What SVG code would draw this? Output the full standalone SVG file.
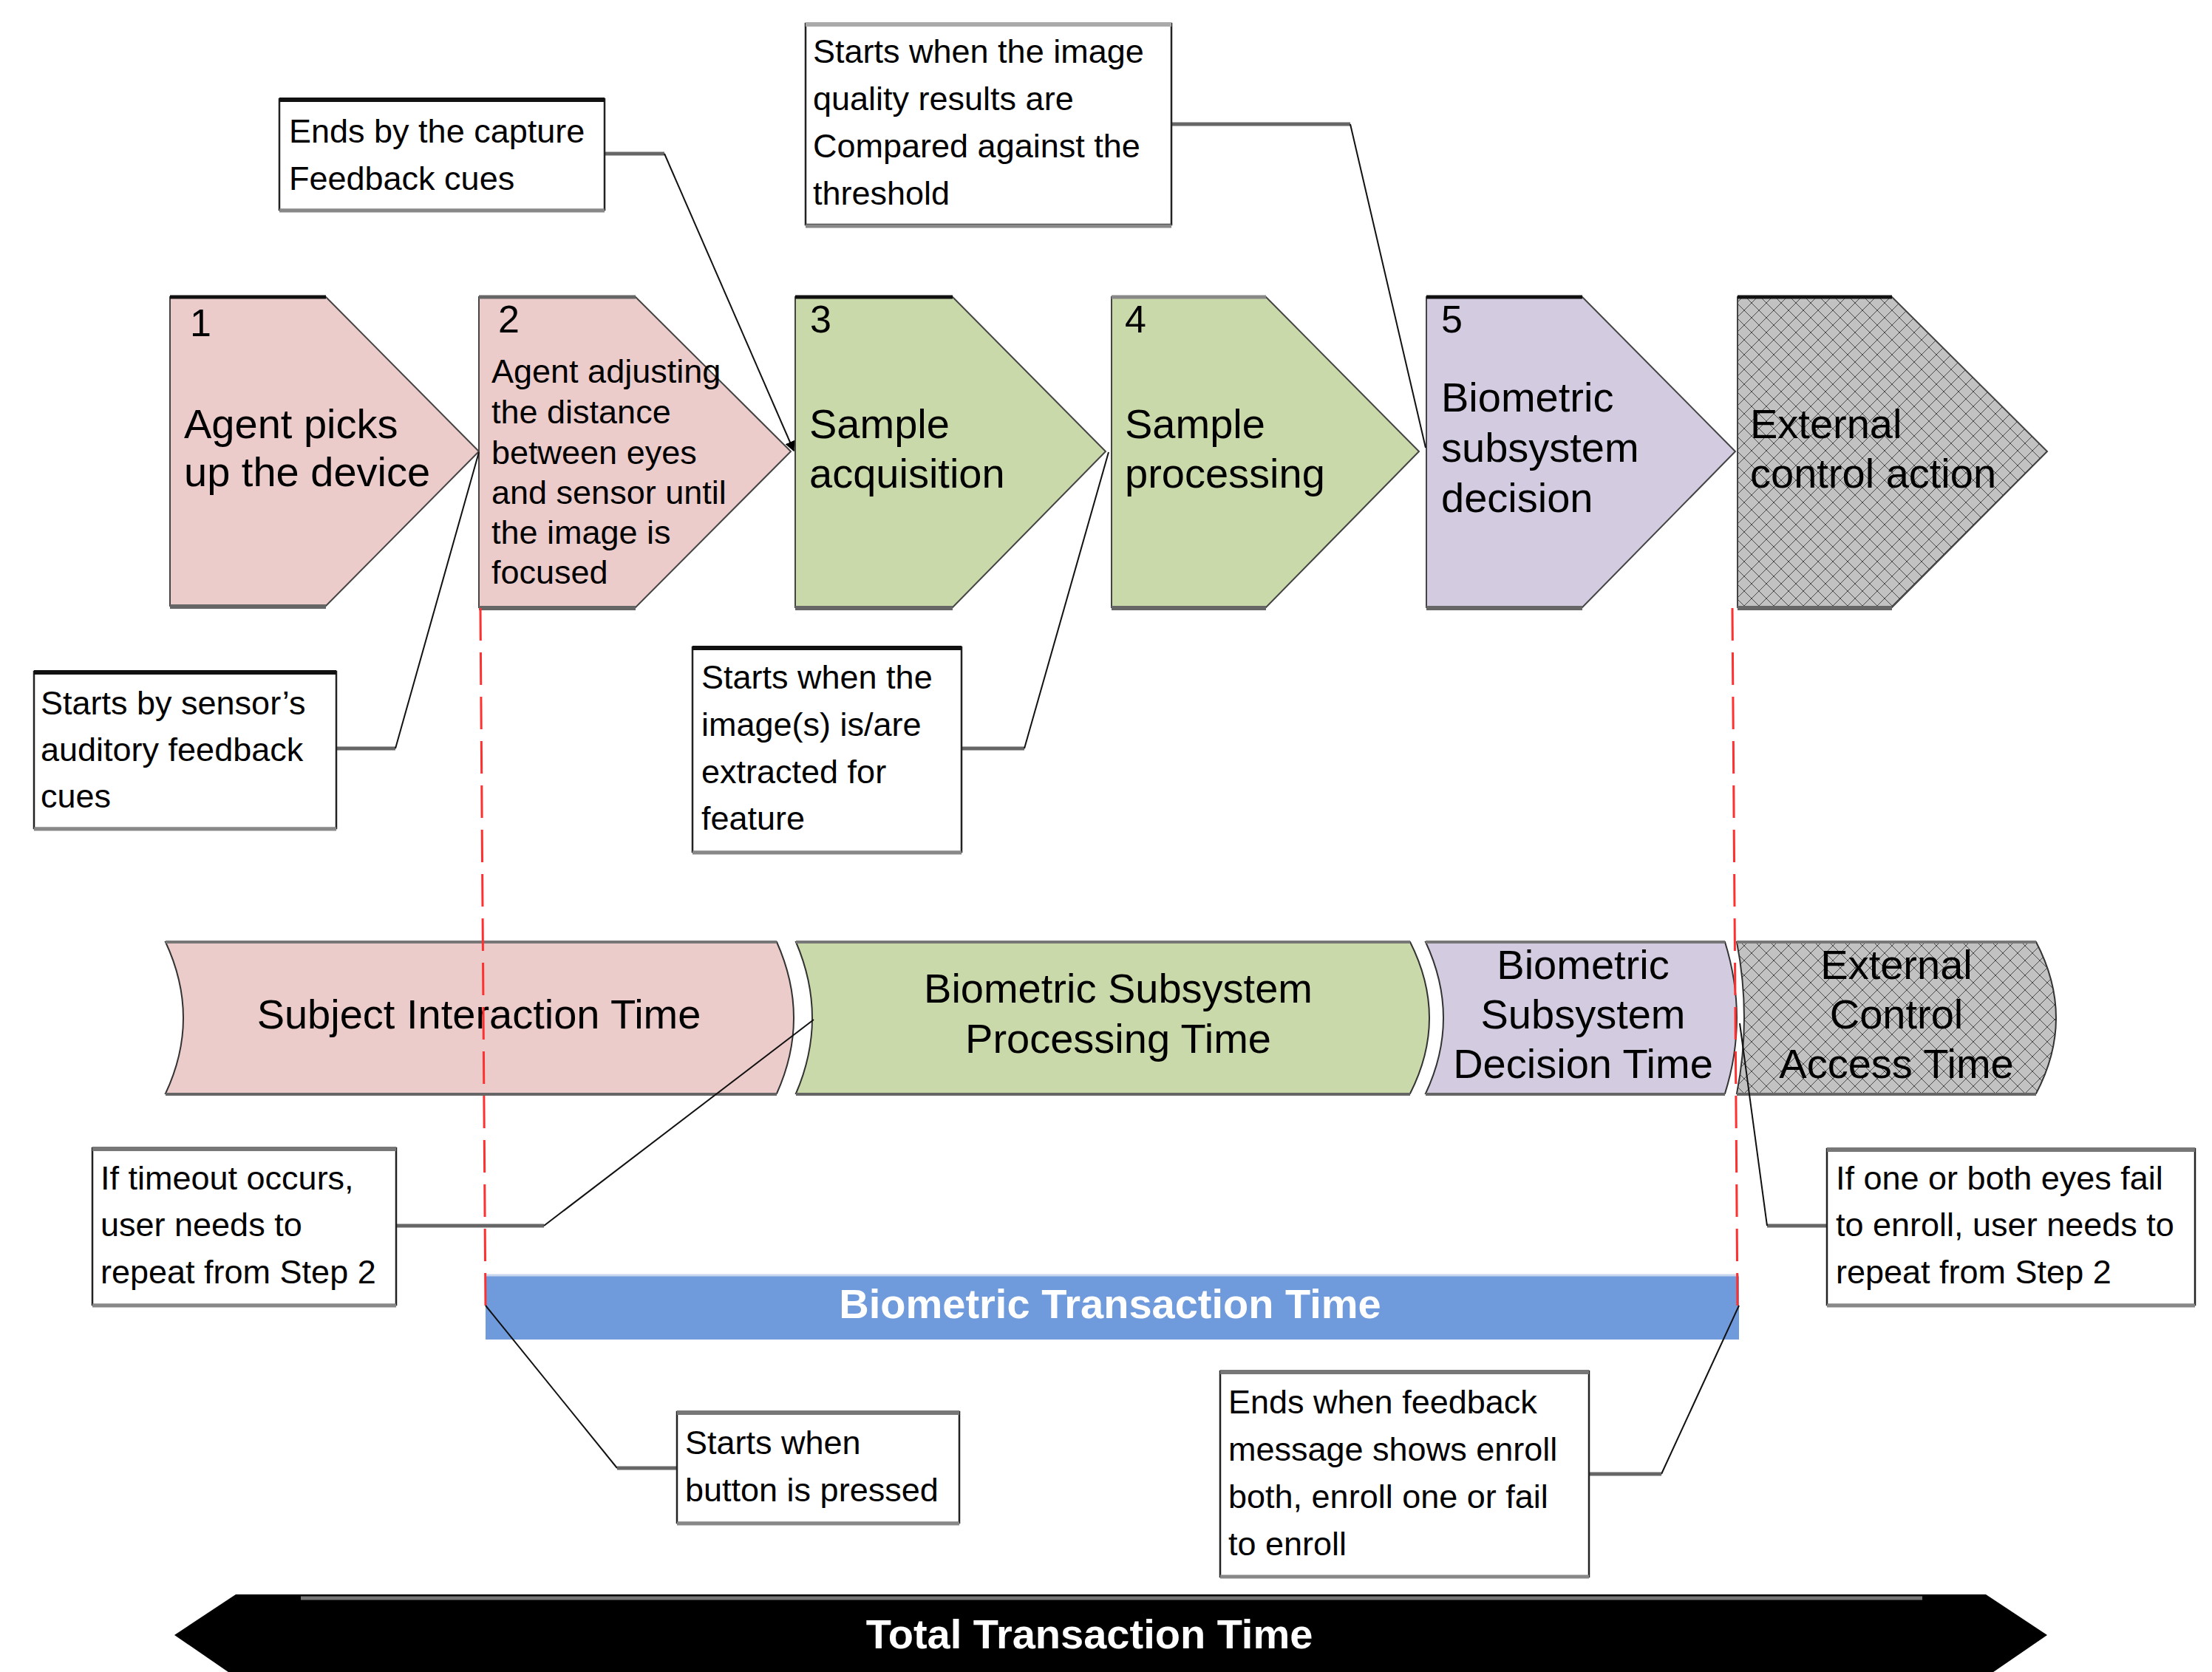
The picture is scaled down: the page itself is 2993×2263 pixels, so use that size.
<svg xmlns="http://www.w3.org/2000/svg" width="2993" height="2263" viewBox="0 0 2993 2263">
<defs>
<style>
text{font-family:"Liberation Sans",Arial,Helvetica,sans-serif;fill:#000}
.big{font-size:56px}
.num{font-size:52px}
.mid{font-size:45px}
.note{font-size:45px}
.wb{font-size:56px;font-weight:bold;fill:#fff}
.chev{stroke:#444;stroke-width:2}
.top{stroke:#111;stroke-width:5}
.bot{stroke:#666;stroke-width:6}
.pink{fill:#ecccca}
.green{fill:#cad9a9}
.purple{fill:#d3cbe0}
.hatch{fill:url(#xh)}
.bar{stroke:#333;stroke-width:2}
.box{fill:#fff;stroke:#222;stroke-width:2.5}
.btop{stroke:#111;stroke-width:6}
.btopg{stroke:#777;stroke-width:6}
.bsh{stroke:#888;stroke-width:5}
.stub{stroke:#666;stroke-width:5;fill:none}
.ln{stroke:#111;stroke-width:2;fill:none}
.red{stroke:#ff3030;stroke-width:3;stroke-dasharray:44 16;fill:none}
</style>
<pattern id="xh" width="20" height="20" patternUnits="userSpaceOnUse">
<rect width="20" height="20" fill="#c2c2c2"/>
<path d="M0,0 L20,20 M20,0 L0,20" stroke="#4a4a4a" stroke-width="1" fill="none"/>
</pattern>
<marker id="ah" viewBox="0 0 10 10" refX="9" refY="5" markerWidth="7" markerHeight="7" orient="auto">
<path d="M0,0 L10,5 L0,10 Z" fill="#000"/>
</marker>
</defs>
<rect width="2993" height="2263" fill="#fff"/>

<g id="step1">
<polygon class="chev pink" points="230,402 441,402 648,611 441,820 230,820"/>
<line class="top" x1="230" y1="402" x2="441" y2="402"/><line class="bot" x1="230" y1="821" x2="441" y2="821"/>
<text class="num" x="257" y="455">1</text>
<text class="big" x="249" y="593">Agent picks</text>
<text class="big" x="249" y="658">up the device</text>
</g>
<g id="step2">
<polygon class="chev pink" points="648,402 860,402 1070,611 860,822 648,822"/>
<line class="top" x1="648" y1="402" x2="860" y2="402" style="stroke:#666"/><line class="bot" x1="648" y1="823" x2="860" y2="823"/>
<text class="num" x="674" y="450">2</text>
<text class="mid" x="665" y="518">Agent adjusting</text>
<text class="mid" x="665" y="573">the distance</text>
<text class="mid" x="665" y="628">between eyes</text>
<text class="mid" x="665" y="682">and sensor until</text>
<text class="mid" x="665" y="736">the image is</text>
<text class="mid" x="665" y="790">focused</text>
</g>
<g id="step3">
<polygon class="chev green" points="1076,402 1289,402 1496,611 1289,822 1076,822"/>
<line class="top" x1="1076" y1="402" x2="1289" y2="402"/><line class="bot" x1="1076" y1="823" x2="1289" y2="823"/>
<text class="num" x="1096" y="450">3</text>
<text class="big" x="1095" y="593">Sample</text>
<text class="big" x="1095" y="660">acquisition</text>
</g>
<g id="step4">
<polygon class="chev green" points="1504,402 1713,402 1920,611 1713,822 1504,822"/>
<line class="top" x1="1504" y1="402" x2="1713" y2="402" style="stroke:#888"/><line class="bot" x1="1504" y1="823" x2="1713" y2="823"/>
<text class="num" x="1522" y="450">4</text>
<text class="big" x="1522" y="593">Sample</text>
<text class="big" x="1522" y="660">processing</text>
</g>
<g id="step5">
<polygon class="chev purple" points="1930,402 2141,402 2348,611 2141,822 1930,822"/>
<line class="top" x1="1930" y1="402" x2="2141" y2="402"/><line class="bot" x1="1930" y1="823" x2="2141" y2="823"/>
<text class="num" x="1950" y="450">5</text>
<text class="big" x="1950" y="557">Biometric</text>
<text class="big" x="1950" y="625">subsystem</text>
<text class="big" x="1950" y="693">decision</text>
</g>
<g id="step6">
<polygon class="chev hatch" points="2351,402 2560,402 2770,611 2560,822 2351,822"/>
<line class="top" x1="2351" y1="402" x2="2560" y2="402"/><line class="bot" x1="2351" y1="823" x2="2560" y2="823"/>
<text class="big" x="2368" y="593">External</text>
<text class="big" x="2368" y="660">control action</text>
</g>

<g id="bar-subject">
<path class="bar pink" d="M224,1275 L1051,1275 Q1097,1378 1051,1480 L224,1480 Q272,1378 224,1275 Z"/>
<line class="btopg" x1="224" y1="1275" x2="1051" y2="1275" style="stroke-width:4"/><line class="bot" x1="224" y1="1481" x2="1051" y2="1481" style="stroke-width:4"/>
<text class="big" x="648" y="1392" text-anchor="middle">Subject Interaction Time</text>
</g>
<g id="bar-processing">
<path class="bar green" d="M1077,1275 L1908,1275 Q1960,1378 1908,1480 L1077,1480 Q1121,1378 1077,1275 Z"/>
<line class="btopg" x1="1077" y1="1275" x2="1908" y2="1275" style="stroke-width:4"/><line class="bot" x1="1077" y1="1481" x2="1908" y2="1481" style="stroke-width:4"/>
<text class="big" x="1513" y="1357" text-anchor="middle">Biometric Subsystem</text>
<text class="big" x="1513" y="1425" text-anchor="middle">Processing Time</text>
</g>
<g id="bar-decision">
<path class="bar purple" d="M1929,1275 L2334,1275 Q2366,1378 2334,1480 L1929,1480 Q1977,1378 1929,1275 Z"/>
<line class="btopg" x1="1929" y1="1275" x2="2334" y2="1275" style="stroke-width:4"/><line class="bot" x1="1929" y1="1481" x2="2334" y2="1481" style="stroke-width:4"/>
<text class="big" x="2142" y="1325" text-anchor="middle">Biometric</text>
<text class="big" x="2142" y="1392" text-anchor="middle">Subsystem</text>
<text class="big" x="2142" y="1459" text-anchor="middle">Decision Time</text>
</g>
<g id="bar-external">
<path class="bar hatch" d="M2350,1275 L2755,1275 Q2809,1378 2755,1480 L2350,1480 Q2370,1378 2350,1275 Z"/>
<line class="btopg" x1="2350" y1="1275" x2="2755" y2="1275" style="stroke-width:4"/><line class="bot" x1="2350" y1="1481" x2="2755" y2="1481" style="stroke-width:4"/>
<text class="big" x="2566" y="1325" text-anchor="middle">External</text>
<text class="big" x="2566" y="1392" text-anchor="middle">Control</text>
<text class="big" x="2566" y="1459" text-anchor="middle">Access Time</text>
</g>

<g id="biometric-transaction">
<rect x="657" y="1725" width="1696" height="88" fill="#6f9bdc"/>
<line x1="657" y1="1726" x2="2353" y2="1726" stroke="#c8d6ee" stroke-width="3"/>
<text class="wb" x="1502" y="1784" text-anchor="middle">Biometric Transaction Time</text>
</g>

<g id="connectors">
<line class="red" x1="650" y1="823" x2="657" y2="1772"/>
<line class="red" x1="2344" y1="823" x2="2351" y2="1772"/>
<line class="stub" x1="818" y1="208" x2="899" y2="208"/>
<path class="ln" d="M899,208 L1074,610" marker-end="url(#ah)"/>
<line class="stub" x1="1585" y1="168" x2="1827" y2="168"/>
<path class="ln" d="M1827,168 L1929,606"/>
<line class="stub" x1="455" y1="1013" x2="535" y2="1013"/>
<path class="ln" d="M535,1013 L648,612"/>
<line class="stub" x1="1301" y1="1013" x2="1386" y2="1013"/>
<path class="ln" d="M1386,1013 L1500,612"/>
<line class="stub" x1="536" y1="1659" x2="736" y2="1659"/>
<path class="ln" d="M736,1659 L1101,1380"/>
<line class="stub" x1="2391" y1="1659" x2="2472" y2="1659"/>
<path class="ln" d="M2354,1385 L2391,1659"/>
<path class="ln" d="M657,1767 L835,1987"/>
<line class="stub" x1="835" y1="1987" x2="916" y2="1987"/>
<path class="ln" d="M2353,1767 L2248,1995"/>
<line class="stub" x1="2150" y1="1995" x2="2248" y2="1995"/>
</g>

<g id="note-ends-capture">
<rect class="box" x="378" y="134" width="440" height="150"/>
<line class="btop" x1="378" y1="135" x2="818" y2="135"/><line class="bsh" x1="378" y1="285" x2="818" y2="285"/>
<text class="note" x="391" y="193">Ends by the capture</text>
<text class="note" x="391" y="257">Feedback cues</text>
</g>
<g id="note-quality">
<rect class="box" x="1090" y="32" width="495" height="272"/>
<line class="btopg" x1="1090" y1="33" x2="1585" y2="33" style="stroke:#aaa"/><line class="bsh" x1="1090" y1="306" x2="1585" y2="306"/>
<text class="note" x="1100" y="85">Starts when the image</text>
<text class="note" x="1100" y="149">quality results are</text>
<text class="note" x="1100" y="213">Compared against the</text>
<text class="note" x="1100" y="277">threshold</text>
</g>
<g id="note-sensor">
<rect class="box" x="46" y="909" width="409" height="212"/>
<line class="btop" x1="46" y1="910" x2="455" y2="910"/><line class="bsh" x1="46" y1="1122" x2="455" y2="1122"/>
<text class="note" x="55" y="967">Starts by sensor’s</text>
<text class="note" x="55" y="1030">auditory feedback</text>
<text class="note" x="55" y="1093">cues</text>
</g>
<g id="note-extracted">
<rect class="box" x="937" y="876" width="364" height="277"/>
<line class="btop" x1="937" y1="877" x2="1301" y2="877"/><line class="bsh" x1="937" y1="1154" x2="1301" y2="1154"/>
<text class="note" x="949" y="932">Starts when the</text>
<text class="note" x="949" y="996">image(s) is/are</text>
<text class="note" x="949" y="1060">extracted for</text>
<text class="note" x="949" y="1123">feature</text>
</g>
<g id="note-timeout">
<rect class="box" x="125" y="1554" width="411" height="212"/>
<line class="btopg" x1="125" y1="1555" x2="536" y2="1555"/><line class="bsh" x1="125" y1="1767" x2="536" y2="1767"/>
<text class="note" x="136" y="1610">If timeout occurs,</text>
<text class="note" x="136" y="1673">user needs to</text>
<text class="note" x="136" y="1737">repeat from Step 2</text>
</g>
<g id="note-fail">
<rect class="box" x="2472" y="1555" width="498" height="211"/>
<line class="btopg" x1="2472" y1="1556" x2="2970" y2="1556"/><line class="bsh" x1="2472" y1="1767" x2="2970" y2="1767"/>
<text class="note" x="2484" y="1610">If one or both eyes fail</text>
<text class="note" x="2484" y="1673">to enroll, user needs to</text>
<text class="note" x="2484" y="1737">repeat from Step 2</text>
</g>
<g id="note-button">
<rect class="box" x="916" y="1911" width="382" height="150"/>
<line class="btopg" x1="916" y1="1912" x2="1298" y2="1912"/><line class="bsh" x1="916" y1="2062" x2="1298" y2="2062"/>
<text class="note" x="927" y="1968">Starts when</text>
<text class="note" x="927" y="2032">button is pressed</text>
</g>
<g id="note-feedback">
<rect class="box" x="1651" y="1856" width="499" height="278"/>
<line class="btopg" x1="1651" y1="1857" x2="2150" y2="1857"/><line class="bsh" x1="1651" y1="2134" x2="2150" y2="2134"/>
<text class="note" x="1662" y="1913">Ends when feedback</text>
<text class="note" x="1662" y="1977">message shows enroll</text>
<text class="note" x="1662" y="2041">both, enroll one or fail</text>
<text class="note" x="1662" y="2105">to enroll</text>
</g>

<g id="total-transaction">
<polygon points="236,2213 319,2158 2687,2158 2770,2213 2687,2270 319,2270" fill="#000"/>
<line x1="407" y1="2163" x2="2601" y2="2163" stroke="#777" stroke-width="5"/>
<text class="wb" x="1474" y="2231" text-anchor="middle">Total Transaction Time</text>
</g>
</svg>
